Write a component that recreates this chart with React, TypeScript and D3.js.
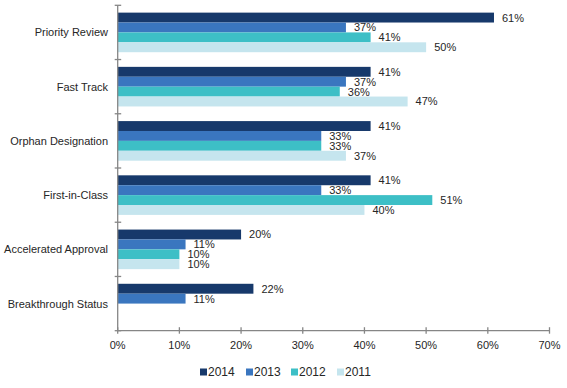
import React from "react";
import * as d3 from "d3";

const categories = [
  "Priority Review",
  "Fast Track",
  "Orphan Designation",
  "First-in-Class",
  "Accelerated Approval",
  "Breakthrough Status",
];
const years = ["2014", "2013", "2012", "2011"];
const values2014 = [61, 41, 41, 41, 20, 22];
const values2013 = [37, 37, 33, 33, 11, 11];
const values2012: (number | null)[] = [41, 36, 33, 51, 10, null];
const values2011: (number | null)[] = [50, 47, 37, 40, 10, null];
const xTicks = [0, 10, 20, 30, 40, 50, 60, 70];
const colors = ["#17396B", "#3A76BF", "#3DBFC6", "#C5E5EE"];

const W = 567;
const H = 388;
const left = 117.7;
const right = 549.5;
const top = 5.3;
const bottom = 330.7;
const font = "'Liberation Sans', Arial, sans-serif";
const textColor = "#262626";
const axisColor = "#868686";

export default function App() {
  const series = [values2014, values2013, values2012, values2011];
  const x = d3.scaleLinear().domain([0, 70]).range([left, right]);
  const y = d3.scaleBand<string>().domain(categories).range([top, bottom]).padding(0);
  const inner = d3
    .scaleBand<string>()
    .domain(years)
    .range([0, y.bandwidth()])
    .paddingInner(0)
    .paddingOuter(0.74);

  const legendX = [200, 246, 291, 337];

  return (
    <svg
      width={W}
      height={H}
      style={{ position: "absolute", left: 0, top: 0, background: "#fff" }}
      fontFamily={font}
    >
      {/* bars */}
      {categories.map((c, ci) =>
        years.map((yr, yi) => {
          const v = series[yi][ci];
          if (v == null) return null;
          const y0 = (y(c) as number) + (inner(yr) as number);
          const h = inner.bandwidth();
          return (
            <g key={c + yr}>
              <rect x={x(0)} y={y0} width={x(v) - x(0)} height={h} fill={colors[yi]} />
              <text
                x={x(v) + 8}
                y={y0 + h / 2}
                dy="0.36em"
                fontSize={11}
                fill={textColor}
              >
                {v}%
              </text>
            </g>
          );
        })
      )}
      {/* y axis */}
      <line x1={left} x2={left} y1={top} y2={bottom} stroke={axisColor} strokeWidth={1.3} />
      {d3.range(categories.length + 1).map((i) => {
        const yy = top + i * y.step();
        return (
          <line key={"yt" + i} x1={left - 3} x2={left + 3.5} y1={yy} y2={yy} stroke={axisColor} strokeWidth={1.3} />
        );
      })}
      {categories.map((c) => (
        <text
          key={"yl" + c}
          x={108}
          y={(y(c) as number) + y.bandwidth() / 2}
          dy="0.36em"
          textAnchor="end"
          fontSize={11}
          fill={textColor}
        >
          {c}
        </text>
      ))}
      {/* x axis */}
      <line x1={left} x2={right} y1={bottom} y2={bottom} stroke={axisColor} strokeWidth={1.3} />
      {xTicks.map((t) => (
        <g key={"xt" + t}>
          <line x1={x(t)} x2={x(t)} y1={bottom - 3.5} y2={bottom + 3} stroke={axisColor} strokeWidth={1.3} />
          <text x={x(t)} y={345} dy="0.36em" textAnchor="middle" fontSize={11} fill={textColor}>
            {t}%
          </text>
        </g>
      ))}
      {/* legend */}
      {years.map((yr, i) => (
        <g key={"lg" + yr}>
          <rect x={legendX[i]} y={368.5} width={7} height={7} fill={colors[i]} />
          <text x={legendX[i] + 8} y={372} dy="0.36em" fontSize={12} fill={textColor}>
            {yr}
          </text>
        </g>
      ))}
    </svg>
  );
}
